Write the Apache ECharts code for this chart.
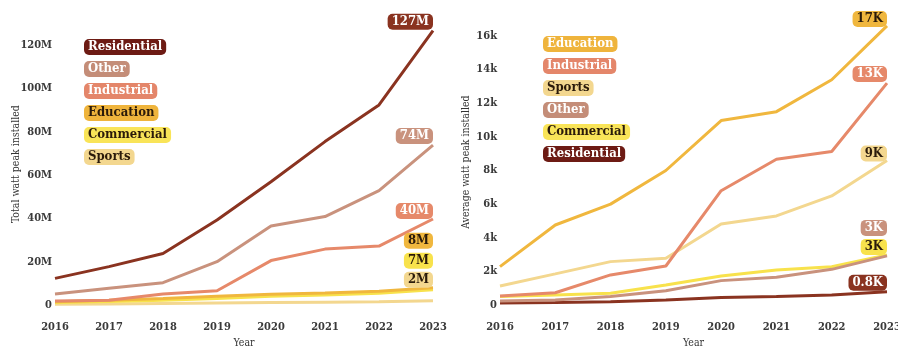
<!DOCTYPE html>
<html>
<head>
<meta charset="utf-8">
<script src="https://cdn.jsdelivr.net/npm/echarts@6/dist/echarts.min.js"></script>
<style>
  html, body { margin: 0; padding: 0; background: #fff; }
  #chart { width: 898px; height: 346px; }
</style>
</head>
<body>
<div id="chart"></div>
<script>
// Years on both x axes
const years = ['2016', '2017', '2018', '2019', '2020', '2021', '2022', '2023'];

// Total watt peak installed, millions
const totalResidential = [12.3, 17.7, 23.8, 39.2, 56.9, 75.4, 92.3, 126.6];
const totalOther       = [5.1, 7.7, 10.3, 20.0, 36.5, 40.8, 52.8, 73.8];
const totalIndustrial  = [1.9, 2.2, 5.1, 6.6, 20.5, 25.8, 27.2, 39.7];
const totalEducation   = [1.5, 2.2, 3.0, 4.0, 5.0, 5.5, 6.3, 8.0];
const totalCommercial  = [1.2, 1.6, 2.2, 3.0, 4.0, 4.6, 5.4, 7.0];
const totalSports      = [0.3, 0.5, 0.7, 0.9, 1.1, 1.3, 1.5, 2.0];

// Average watt peak installed, thousands
const avgEducation   = [2.28, 4.76, 6.0, 8.0, 10.97, 11.5, 13.4, 16.6];
const avgIndustrial  = [0.54, 0.73, 1.79, 2.32, 6.8, 8.67, 9.13, 13.2];
const avgSports      = [1.13, 1.85, 2.58, 2.78, 4.82, 5.3, 6.49, 8.6];
const avgOther       = [0.24, 0.3, 0.5, 0.85, 1.45, 1.65, 2.12, 2.92];
const avgCommercial  = [0.5, 0.6, 0.7, 1.19, 1.73, 2.08, 2.28, 2.98];
const avgResidential = [0.12, 0.15, 0.2, 0.3, 0.44, 0.5, 0.6, 0.79];

// Legend orders
const totalLegendOrder = ['Residential', 'Other', 'Industrial', 'Education', 'Commercial', 'Sports'];
const avgLegendOrder = ['Education', 'Industrial', 'Sports', 'Other', 'Commercial', 'Residential'];

const FONT = '"DejaVu Serif Condensed", "DejaVu Serif", serif';
const DARK = '#2a1a0a';

const palette = {
  Residential: { line: '#8a3320', tag: '#6d1b14', ink: '#ffffff' },
  Other:       { line: '#c9927d', tag: '#c48d78', ink: '#ffffff' },
  Industrial:  { line: '#e6896a', tag: '#e4866a', ink: '#ffffff' },
  Education:   { line: '#f0b73e', tag: '#efb43c', ink: DARK },
  Commercial:  { line: '#f8e24c', tag: '#f9e458', ink: DARK },
  Sports:      { line: '#f3d78f', tag: '#f3d78f', ink: DARK }
};

// Vertical shift of each end tag above its line end
const totalTagShift = { Residential: -9, Other: -9, Industrial: -8, Education: -47, Commercial: -29, Sports: -21 };
const avgTagShift = { Education: -7, Industrial: -9, Sports: -7, Other: -28, Commercial: -8, Residential: -9 };
// Text colours on the average panel's legend tags
const avgLegendInk = { Education: '#ffffff' };

function tagStyle(bg, ink) {
  return {
    color: ink, backgroundColor: bg, borderRadius: 5,
    padding: [2, 4, 1, 4], fontFamily: FONT, fontWeight: 'bold', fontSize: 13, lineHeight: 13
  };
}

function makeSeries(name, data, gridIdx, shift, fmt) {
  const p = palette[name];
  return {
    name: name, type: 'line', data: data,
    xAxisIndex: gridIdx, yAxisIndex: gridIdx,
    symbol: 'none', smooth: false,
    lineStyle: { width: 3, color: p.line },
    itemStyle: { color: p.line },
    emphasis: { disabled: true },
    endLabel: Object.assign({
      show: true, formatter: fmt, distance: 0,
      align: 'right', verticalAlign: 'middle', offset: [0, shift]
    }, tagStyle(p.line, p.ink))
  };
}

const fmtM = function (prm) { return Math.round(prm.value) + 'M'; };
const fmtK = function (prm) {
  const v = prm.value;
  return (v < 1 ? v.toFixed(1) : Math.round(v)) + 'K';
};

function legendData(order, inkOverrides) {
  return order.map(function (n) {
    const p = palette[n];
    return { name: n, textStyle: tagStyle(p.tag, (inkOverrides && inkOverrides[n]) || p.ink) };
  });
}

const axisText = { fontFamily: FONT, fontSize: 11, fontWeight: 'bold', color: '#3a3a3a' };
const nameText = { fontFamily: FONT, fontSize: 10.5, color: '#333' };

const totalSeries = {
  Residential: totalResidential, Other: totalOther, Industrial: totalIndustrial,
  Education: totalEducation, Commercial: totalCommercial, Sports: totalSports
};
const avgSeries = {
  Education: avgEducation, Industrial: avgIndustrial, Sports: avgSports,
  Other: avgOther, Commercial: avgCommercial, Residential: avgResidential
};

const series = [];
['Sports', 'Commercial', 'Education', 'Industrial', 'Other', 'Residential'].forEach(function (n) {
  series.push(makeSeries(n, totalSeries[n], 0, totalTagShift[n], fmtM));
});
['Residential', 'Commercial', 'Other', 'Sports', 'Industrial', 'Education'].forEach(function (n) {
  series.push(makeSeries(n, avgSeries[n], 1, avgTagShift[n], fmtK));
});

function xAxis(gridIdx) {
  return {
    type: 'category', gridIndex: gridIdx, data: years, boundaryGap: false,
    axisLine: { show: false }, axisTick: { show: false },
    axisLabel: Object.assign({ margin: 17 }, axisText),
    name: 'Year', nameLocation: 'middle', nameGap: 33, nameMoveOverlap: false,
    nameTextStyle: nameText
  };
}

const chart = echarts.init(document.getElementById('chart'), null, { renderer: 'canvas' });
chart.setOption({
  animation: false,
  backgroundColor: '#ffffff',
  grid: [
    { left: 55, top: 23.3, width: 378, bottom: 41, outerBoundsMode: 'none', containLabel: false },
    { left: 500, top: 19.2, width: 387, bottom: 41, outerBoundsMode: 'none', containLabel: false }
  ],
  xAxis: [xAxis(0), xAxis(1)],
  yAxis: [
    {
      type: 'value', gridIndex: 0, min: 0, max: 130, interval: 20,
      splitLine: { show: false }, axisLine: { show: false }, axisTick: { show: false },
      axisLabel: Object.assign({
        margin: 3, showMaxLabel: false,
        formatter: function (v) { return v === 0 ? '0' : v + 'M'; }
      }, axisText),
      name: 'Total watt peak installed', nameLocation: 'middle', nameGap: 33,
      nameMoveOverlap: false, nameTextStyle: nameText
    },
    {
      type: 'value', gridIndex: 1, min: 0, max: 17, interval: 2,
      splitLine: { show: false }, axisLine: { show: false }, axisTick: { show: false },
      axisLabel: Object.assign({
        margin: 3, showMaxLabel: false,
        formatter: function (v) { return v === 0 ? '0' : v + 'k'; }
      }, axisText),
      name: 'Average watt peak installed', nameLocation: 'middle', nameGap: 28,
      nameMoveOverlap: false, nameTextStyle: nameText
    }
  ],
  legend: [
    {
      orient: 'vertical', left: 73, top: 34, itemWidth: 0, itemHeight: 0, itemGap: 6,
      selectedMode: false, data: legendData(totalLegendOrder)
    },
    {
      orient: 'vertical', left: 532, top: 31, itemWidth: 0, itemHeight: 0, itemGap: 6,
      selectedMode: false, data: legendData(avgLegendOrder, avgLegendInk)
    }
  ],
  series: series
});
</script>
</body>
</html>
